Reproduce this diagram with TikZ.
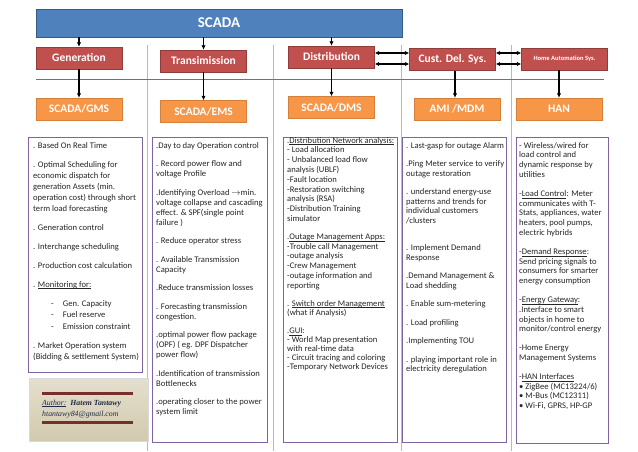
\documentclass[tikz,border=0pt]{standalone}
\usepackage{fontspec}
\setmainfont{Carlito}
\newfontfamily\authorfont{Liberation Serif}
\usepackage{xcolor}
\usetikzlibrary{arrows.meta}

\definecolor{scadablue}{HTML}{4F81BD}
\definecolor{sysred}{HTML}{C0504D}
\definecolor{apporange}{HTML}{F79646}
\definecolor{listpurple}{HTML}{8064A2}
\definecolor{seplight}{HTML}{A7BDD8}
\definecolor{hlinegray}{HTML}{5F7590}
\definecolor{authorbar}{HTML}{7A2E2B}
\definecolor{authortext}{HTML}{1F2A44}
\definecolor{authortop}{HTML}{E4DFCE}
\definecolor{authorbottom}{HTML}{D2CAAE}

\newcommand{\undl}[1]{\underline{\smash{#1}}}

\begin{document}
\begin{tikzpicture}[x=1pt, y=-1pt,
  topbar/.style={draw=scadablue!70!black, fill=scadablue, text=white, minimum width=366pt, minimum height=28pt, font=\fontsize{15}{18}\selectfont\bfseries},
  sysbox/.style={draw=sysred!75!black, fill=sysred, text=white, minimum width=86pt, minimum height=22pt, inner sep=1pt, font=\fontsize{11.5}{13}\selectfont\bfseries},
  appbox/.style={draw=apporange!85!black, fill=apporange, text=white, minimum width=86pt, minimum height=22pt, inner sep=1pt, font=\fontsize{11.5}{13}\selectfont\bfseries},
  listbox/.style={draw=listpurple, line width=1.1pt, fill=white, anchor=north west, inner sep=0pt},
  bodytxt/.style={anchor=north west, inner sep=0pt, align=left, text=black!85, font=\fontsize{8.6}{10}\selectfont},
  arr/.style={-{Latex[length=4.5pt,width=4.5pt]}, line width=1.2pt},
  dbl/.style={{Latex[length=4.5pt,width=4.5pt]}-{Latex[length=4.5pt,width=4.5pt]}, line width=1.2pt},
  sep/.style={seplight, line width=0.8pt},
  authorrule/.style={authorbar, line width=3pt}
]
\path[fill=white] (0,0) rectangle (638,451);

\foreach \sx in {147,273,401,511}
  \draw[sep] (\sx,45) -- (\sx,451);
\draw[hlinegray, line width=0.8pt] (36,79) -- (604,79);

\node[topbar] (scada) at (219,23) {SCADA};

\node[sysbox] (gen) at (79,58) {Generation};
\node[sysbox] (trans) at (203.5,61) {Transimission};
\node[sysbox] (dist) at (331.5,57) {Distribution};
\node[sysbox] (cust) at (452.5,59.5) {Cust. Del. Sys.};
\node[sysbox, font=\fontsize{6.5}{8}\selectfont\bfseries] (home) at (564.5,59) {Home Automation Sys.};

\node[appbox] (gms) at (79,109) {SCADA/GMS};
\node[appbox] (ems) at (203.5,111.5) {SCADA/EMS};
\node[appbox] (dms) at (331.5,107.5) {SCADA/DMS};
\node[appbox] (ami) at (457,109) {AMI /MDM};
\node[appbox] (han) at (559,109) {HAN};

\draw[arr] (scada.south -| gen.north) -- (gen.north);
\draw[arr] (scada.south -| trans.north) -- (trans.north);
\draw[arr] (scada.south -| dist.north) -- (dist.north);

\draw[arr] (gen.south) -- (gms.north);
\draw[arr] (trans.south) -- (ems.north);
\draw[arr] (dist.south) -- (dms.north);
\path ([xshift=2.5pt]cust.south) coordinate (custdown);
\draw[arr] (custdown) -- (custdown |- ami.north);
\draw[arr] (home.south -| han.north) -- (han.north);

\path ([yshift=6.5pt]cust.west) coordinate (cwup) ([yshift=-4.5pt]cust.west) coordinate (cwdown);
\path ([yshift=6.5pt]cust.east) coordinate (ceup) ([yshift=-4.5pt]cust.east) coordinate (cedown);
\draw[dbl] (cwup -| dist.east) -- (cwup);
\draw[dbl] (cwdown -| dist.east) -- (cwdown);
\draw[dbl] (ceup) -- (ceup -| home.west);
\draw[dbl] (cedown) -- (cedown -| home.west);

\node[listbox, minimum width=114pt, minimum height=235pt] (gmsbox) at (28,137) {};
\node[listbox, minimum width=115pt, minimum height=305pt] (emsbox) at (152,137) {};
\node[listbox, minimum width=114pt, minimum height=305pt] (dmsbox) at (283,137) {};
\node[listbox, minimum width=104pt, minimum height=305pt] (amibox) at (402,137) {};
\node[listbox, minimum width=92pt, minimum height=306pt] (hanbox) at (516,137) {};

\node[bodytxt, font=\fontsize{8.6}{11}\selectfont] (gmstxt) at ([shift={(5,5)}]gmsbox.north west) {%
. Based On Real Time\\[8pt]
. Optimal Scheduling for\\
economic dispatch for\\
generation Assets (min.\\
operation cost) through short\\
term load forecasting\\[8pt]
. Generation control\\[8pt]
. Interchange scheduling\\[8pt]
. Production cost calculation\\[8pt]
. \undl{Monitoring for:}\\[8pt]
\hspace{18pt}-\hspace{9pt}Gen. Capacity\\[0.5pt]
\hspace{18pt}-\hspace{9pt}Fuel reserve\\[0.5pt]
\hspace{18pt}-\hspace{9pt}Emission constraint\\[8pt]
. Market Operation system\\
(Bidding \& settlement System)};

\node[bodytxt] (emstxt) at ([shift={(4,5)}]emsbox.north west) {%
.Day to day Operation control\\[8.5pt]
. Record power flow and\\
voltage Profile\\[8.5pt]
.Identifying Overload $\rightarrow$min.\\
voltage collapse and cascading\\
effect. \& SPF(single point\\
failure )\\[8.5pt]
. Reduce operator stress\\[8.5pt]
. Available Transmission\\
Capacity\\[8.5pt]
.Reduce transmission losses\\[8.5pt]
. Forecasting transmission\\
congestion.\\[8.5pt]
.optimal power flow package\\
(OPF) ( eg. DPF Dispatcher\\
power flow)\\[8.5pt]
.Identification of transmission\\
Bottlenecks\\[8.5pt]
.operating closer to the power\\
system limit};

\node[bodytxt, font=\fontsize{8.6}{9.8}\selectfont] (dmstxt) at ([shift={(4,5)}]dmsbox.north west) {%
.\undl{Distribution Network analysis:}\\
- Load allocation\\
- Unbalanced load flow\\
analysis (UBLF)\\
-Fault location\\
-Restoration switching\\
analysis (RSA)\\
-Distribution Training\\
simulator\\[8pt]
.\undl{Outage Management Apps:}\\
-Trouble call Management\\
-outage analysis\\
-Crew Management\\
-outage information and\\
reporting\\[8pt]
. \undl{Switch order Management}\\
(what if Analysis)\\[8pt]
.\undl{GUI}:\\[-0.8pt]
- World Map presentation\\[-0.8pt]
with real-time data\\[-0.8pt]
- Circuit tracing and coloring\\[-0.8pt]
-Temporary Network Devices};

\node[bodytxt, font=\fontsize{8.6}{9.5}\selectfont] (amitxt) at ([shift={(4,5)}]amibox.north west) {%
. Last-gasp for outage Alarm\\[9pt]
.Ping Meter service to verify\\
outage restoration\\[9pt]
. understand energy-use\\
patterns and trends for\\
individual customers\\
/clusters\\[18pt]
. Implement Demand\\
Response\\[9pt]
.Demand Management \&\\
Load shedding\\[9pt]
. Enable sum-metering\\[9pt]
. Load profiling\\[9pt]
.Implementing TOU\\[9pt]
. playing important role in\\
electricity deregulation};

\node[bodytxt, font=\fontsize{8.6}{9.8}\selectfont] (hantxt) at ([shift={(3,5)}]hanbox.north west) {%
- Wireless/wired for\\
load control and\\
dynamic response by\\
utilities\\[9pt]
-\undl{Load Control}: Meter\\
communicates with T-\\
Stats, appliances, water\\
heaters, pool pumps,\\
electric hybrids\\[9pt]
-\undl{Demand Response}:\\
Send pricing signals to\\
consumers for smarter\\
energy consumption\\[9pt]
-\undl{Energy Gateway}:\\
.Interface to smart\\
objects in home to\\
monitor/control energy\\[9pt]
-Home Energy\\
Management Systems\\[9pt]
-\undl{HAN Interfaces}\\
\textbullet{} ZigBee (MC13224/6)\\
\textbullet{} M-Bus (MC12311)\\
\textbullet{} Wi-Fi, GPRS, HP-GP};

\node[anchor=north west, minimum width=119pt, minimum height=63pt, draw=black!15, top color=authortop, bottom color=authorbottom] (author) at (29,378) {};
\draw[authorrule] ([shift={(13,16)}]author.north west) -- ([shift={(-15,16)}]author.north east);
\draw[authorrule] ([shift={(13,45)}]author.north west) -- ([shift={(-15,45)}]author.north east);
\node[anchor=west, inner sep=0pt, align=left, text=authortext, font=\authorfont\fontsize{7.8}{11}\selectfont\itshape] (authortxt) at ([shift={(13,31)}]author.north west) {%
\undl{Author:}\enspace\textbf{Hatem Tantawy}\\
htantawy84@gmail.com};
\end{tikzpicture}
\end{document}
